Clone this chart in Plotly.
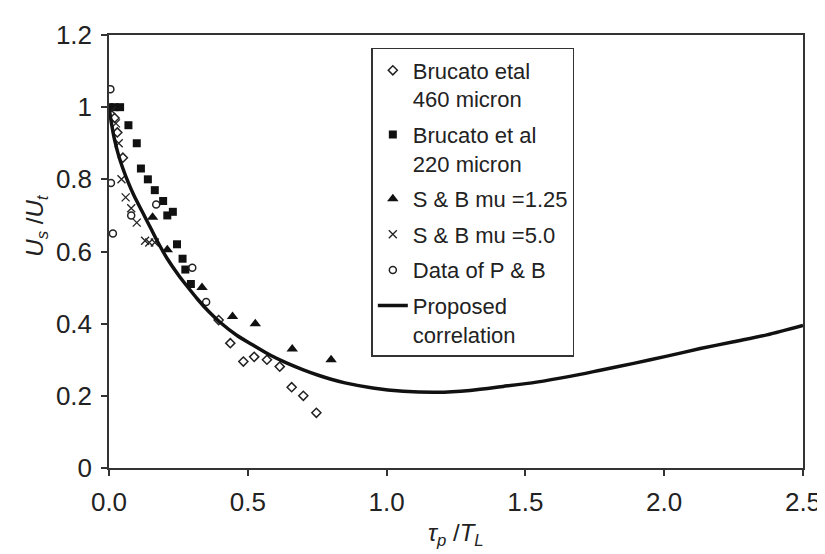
import plotly.graph_objects as go

# ---- data ----
b460_x = [0.02, 0.03, 0.05, 0.395, 0.437, 0.484, 0.523, 0.569, 0.615, 0.658, 0.70, 0.747]
b460_y = [0.97, 0.93, 0.86, 0.41, 0.346, 0.295, 0.308, 0.30, 0.281, 0.224, 0.20, 0.153]

b220_x = [0.00, 0.02, 0.04, 0.07, 0.10, 0.115, 0.14, 0.165, 0.195, 0.21, 0.23, 0.245, 0.265, 0.275, 0.295]
b220_y = [1.00, 1.00, 1.00, 0.95, 0.90, 0.83, 0.80, 0.77, 0.74, 0.70, 0.71, 0.62, 0.58, 0.55, 0.51]

sb125_x = [0.157, 0.21, 0.335, 0.445, 0.527, 0.66, 0.80]
sb125_y = [0.695, 0.605, 0.50, 0.42, 0.40, 0.33, 0.30]

sb50_x = [0.01, 0.025, 0.035, 0.045, 0.06, 0.08, 0.10, 0.13, 0.145, 0.165]
sb50_y = [0.99, 0.955, 0.90, 0.80, 0.75, 0.72, 0.68, 0.63, 0.625, 0.625]

pb_x = [0.005, 0.007, 0.014, 0.08, 0.17, 0.30, 0.35]
pb_y = [1.05, 0.79, 0.65, 0.70, 0.73, 0.555, 0.46]

curve_x = [0.0, 0.01, 0.02, 0.035, 0.05, 0.07, 0.09, 0.12, 0.15, 0.18, 0.21, 0.25, 0.28,
           0.32, 0.36, 0.40, 0.46, 0.52, 0.58, 0.637, 0.70, 0.754, 0.80, 0.85, 0.95, 1.06,
           1.18, 1.30, 1.42, 1.54, 1.66, 1.77, 1.89, 2.01, 2.13, 2.25, 2.37, 2.50]
curve_y = [1.00, 0.95, 0.91, 0.865, 0.83, 0.79, 0.755, 0.71, 0.665, 0.62, 0.58, 0.535, 0.505,
           0.467, 0.433, 0.404, 0.368, 0.34, 0.313, 0.292, 0.272, 0.257, 0.246, 0.236, 0.222, 0.213,
           0.210, 0.215, 0.226, 0.238, 0.254, 0.271, 0.290, 0.310, 0.331, 0.350, 0.369, 0.395]

x_ticks = [0.0, 0.5, 1.0, 1.5, 2.0, 2.5]
x_ticktext = ["0.0", "0.5", "1.0", "1.5", "2.0", "2.5"]
y_ticks = [0, 0.2, 0.4, 0.6, 0.8, 1.0, 1.2]
y_ticktext = ["0", "0.2", "0.4", "0.6", "0.8", "1", "1.2"]

FONT = "Liberation Sans, Arial, sans-serif"
INK = "#222222"

fig = go.Figure()
fig.add_trace(go.Scatter(x=b460_x, y=b460_y, mode="markers", name="Brucato etal<br>460 micron",
                         legendgroup="a",
                         marker=dict(symbol="diamond-open", size=7, color=INK, line=dict(width=1.5))))
fig.add_trace(go.Scatter(x=b220_x, y=b220_y, mode="markers", name="Brucato et al<br>220 micron",
                         legendgroup="b",
                         marker=dict(symbol="square", size=8, color="#111111")))
fig.add_trace(go.Scatter(x=sb125_x, y=sb125_y, mode="markers", name="S & B mu =1.25",
                         legendgroup="c",
                         marker=dict(symbol="triangle-up", size=10, color="#111111")))
fig.add_trace(go.Scatter(x=sb50_x, y=sb50_y, mode="markers", name="S & B mu =5.0",
                         legendgroup="d",
                         marker=dict(symbol="x-thin", size=8, color=INK, line=dict(width=1.3, color=INK))))
fig.add_trace(go.Scatter(x=pb_x, y=pb_y, mode="markers", name="Data of P & B",
                         legendgroup="e",
                         marker=dict(symbol="circle-open", size=7, color=INK, line=dict(width=1.5))))
fig.add_trace(go.Scatter(x=curve_x, y=curve_y, mode="lines", name="Proposed<br>correlation",
                         legendgroup="f",
                         line=dict(color="#111111", width=3.5, shape="spline", smoothing=0.8)))

axis_common = dict(
    showgrid=False, zeroline=False, showline=True, linecolor="#333333", linewidth=1.5,
    mirror=True, ticks="outside", ticklen=6, tickwidth=1.5, tickcolor="#333333",
    ticklabelstandoff=4,
    tickfont=dict(family=FONT, size=26, color=INK),
)

fig.update_layout(
    width=825, height=554,
    margin=dict(l=101, r=21, t=21, b=94),
    paper_bgcolor="white", plot_bgcolor="white",
    font=dict(family=FONT, color=INK),
    xaxis=dict(range=[0, 2.5], tickvals=x_ticks, ticktext=x_ticktext, **axis_common),
    yaxis=dict(range=[0, 1.2], tickvals=y_ticks, ticktext=y_ticktext, **axis_common),
    legend=dict(x=0.378, y=0.97, xanchor="left", yanchor="top", valign="top",
                bordercolor="#333333", borderwidth=1.5, bgcolor="white",
                font=dict(family=FONT, size=22, color=INK),
                tracegroupgap=4, itemwidth=30),
    annotations=[
        dict(text="<i>U<sub>s</sub></i> /<i>U<sub>t</sub></i>", xref="paper", yref="paper",
             x=-0.105, y=0.56, xanchor="center", yanchor="middle", textangle=-90, showarrow=False,
             font=dict(family=FONT, size=24, color=INK)),
        dict(text="<i>τ<sub>p</sub></i> /<i>T<sub>L</sub></i>", xref="paper", yref="paper",
             x=0.5, y=-0.153, showarrow=False, xanchor="center", yanchor="middle",
             font=dict(family=FONT, size=24, color=INK)),
    ],
)

fig.write_html("out.html")
